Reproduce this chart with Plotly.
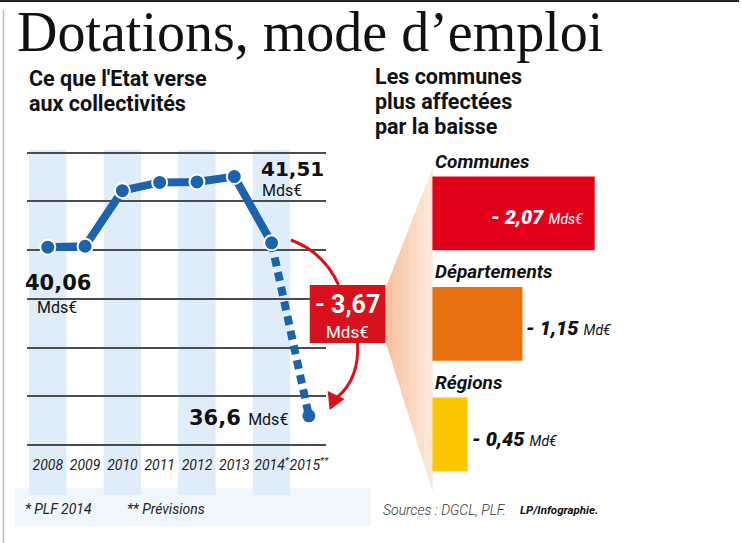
import plotly.graph_objects as go

# ---------------- data ----------------
years = ["2008", "2009", "2010", "2011", "2012", "2013", "2014", "2015"]
year_ticks = ["2008", "2009", "2010", "2011", "2012", "2013", "2014<sup>*</sup>", "2015<sup>**</sup>"]
dotations = [40.06, 40.08, 41.22, 41.39, 41.40, 41.51, 40.15, 36.6]   # Mds€
n_actual = 7   # 2008..2014 solid, 2014->2015 forecast dotted

cats = ["Communes", "Départements", "Régions"]
baisse = [2.07, 1.15, 0.45]          # Mds€ (shown as negative)
baisse_txt = ["- 2,07", "- 1,15", "- 0,45"]
unit_txt = ["Mds€", "Md€", "Md€"]
bar_colors = ["#e2001a", "#e8700f", "#fcc600"]
total_txt = "- 3,67"

# ---------------- geometry helpers ----------------
W, H = 742, 543
def px(x): return x / W
def py(y): return 1 - y / H

BLUE = "#1c63ae"
RED = "#d8121c"
ROBOTO = "Roboto, 'Open Sans', sans-serif"
HEAVY = "'DejaVu Sans', Roboto, sans-serif"

fig = go.Figure()

xi = list(range(len(years)))

# forecast dotted segment
fig.add_trace(go.Scatter(
    x=xi[n_actual - 1:], y=dotations[n_actual - 1:], mode="lines",
    line=dict(color=BLUE, width=8, dash="9px,6px"),
    hoverinfo="skip", xaxis="x", yaxis="y"))
fig.add_trace(go.Scatter(
    x=xi[n_actual:], y=dotations[n_actual:], mode="markers",
    marker=dict(size=13, color=BLUE, line=dict(width=0)),
    hoverinfo="skip", xaxis="x", yaxis="y"))
# actual solid line
fig.add_trace(go.Scatter(
    x=xi[:n_actual], y=dotations[:n_actual], mode="lines+markers",
    line=dict(color=BLUE, width=8),
    marker=dict(size=15, color=BLUE, line=dict(color="white", width=2)),
    hoverinfo="skip", xaxis="x", yaxis="y"))

# bars
fig.add_trace(go.Bar(
    x=baisse, y=cats, orientation="h", marker=dict(color=bar_colors, line=dict(width=0)),
    width=0.667, xaxis="x2", yaxis="y2", hoverinfo="skip"))

shapes = []
ann = []

# top rule and left rule
shapes.append(dict(type="line", xref="paper", yref="paper", x0=0, x1=1, y0=py(1), y1=py(1),
                   line=dict(color="#222", width=2)))
shapes.append(dict(type="line", xref="paper", yref="paper", x0=px(3.5), x1=px(3.5), y0=py(10), y1=py(543),
                   line=dict(color="#bbbbbb", width=1.5)))

# light blue background bands
shapes.append(dict(type="rect", xref="paper", yref="paper", x0=px(15), x1=px(372), y0=py(526), y1=py(488),
                   fillcolor="#f0f7fc", line=dict(width=0), layer="below"))
for i in range(0, len(years), 2):
    shapes.append(dict(type="rect", xref="x", yref="paper", x0=i - 0.5, x1=i + 0.5,
                       y0=py(495), y1=py(150), fillcolor="#deedf9", line=dict(width=0), layer="below"))

# peach funnel (stepped gradient)
x_a, x_b = 387, 434
top_a, top_b = 288, 168
bot_a, bot_b = 342, 492
steps = 6
cols = ["#f8c2a2", "#f9c9ac", "#fad0b6", "#fbd8c2", "#fce0ce", "#fde8da"]
for k in range(steps):
    t0, t1 = k / steps, (k + 1) / steps
    xa, xb = x_a + (x_b - x_a) * t0, x_a + (x_b - x_a) * t1
    ya0, yb0 = top_a + (top_b - top_a) * t0, top_a + (top_b - top_a) * t1
    ya1, yb1 = bot_a + (bot_b - bot_a) * t0, bot_a + (bot_b - bot_a) * t1
    path = (f"M {px(xa)},{py(ya0)} L {px(xb + 0.5)},{py(yb0)} "
            f"L {px(xb + 0.5)},{py(yb1)} L {px(xa)},{py(ya1)} Z")
    shapes.append(dict(type="path", xref="paper", yref="paper", path=path,
                       fillcolor=cols[k], line=dict(width=0), layer="below"))

# red box
shapes.append(dict(type="rect", xref="paper", yref="paper", x0=px(311), x1=px(387), y0=py(343), y1=py(285),
                   fillcolor=RED, line=dict(width=0)))
# curved red arrow
shapes.append(dict(type="path", xref="paper", yref="paper",
                   path=f"M {px(292)},{py(240)} Q {px(325)},{py(252)} {px(340)},{py(285)}",
                   line=dict(color=RED, width=3)))
shapes.append(dict(type="path", xref="paper", yref="paper",
                   path=f"M {px(359)},{py(343)} Q {px(361)},{py(378)} {px(339)},{py(397)}",
                   line=dict(color=RED, width=3)))
shapes.append(dict(type="path", xref="paper", yref="paper",
                   path=(f"M {px(331)},{py(410)} L {px(329)},{py(391)} L {px(346)},{py(399)} Z"),
                   fillcolor=RED, line=dict(width=0)))

def txt(text, x, y, size, family=ROBOTO, color="#111", xanchor="left", weight="normal", style="normal"):
    ann.append(dict(text=text, x=px(x), y=py(y), xref="paper", yref="paper", xanchor=xanchor,
                    yanchor="middle", showarrow=False,
                    font=dict(size=size, family=family, color=color, weight=weight, style=style)))

# titles
txt("Dotations, mode d’emploi", 15, 32, 56, family="'Liberation Serif', 'DejaVu Serif', serif", color="#111")
txt("Ce que l'Etat verse", 27, 79, 21.5, weight="bold")
txt("aux collectivités", 27, 104, 21.5, weight="bold")
txt("Les communes", 375, 77, 21.5, weight="bold")
txt("plus affectées", 375, 102, 21.5, weight="bold")
txt("par la baisse", 375, 127, 21.5, weight="bold")

# line-chart value labels (anchored to data points)
def dann(text, i, dx, dy, size, family, xanchor="center", weight="normal", color="#111"):
    ann.append(dict(text=text, x=i, y=dotations[i], xref="x", yref="y", xanchor=xanchor, yanchor="middle",
                    xshift=dx, yshift=dy, showarrow=False,
                    font=dict(size=size, family=family, color=color, weight=weight)))

dann("40,06", 0, 10, -36, 21, HEAVY, weight="bold")
dann("Mds€", 0, 9, -60, 16, ROBOTO)
dann("41,51", 5, 25, 8, 20, HEAVY, xanchor="left", weight="bold")
dann("Mds€", 5, 26, -14, 16, ROBOTO, xanchor="left")
dann("36,6 <span style='font-family:Roboto;font-weight:normal;font-size:16px'>Mds€</span>",
     7, -19, -2, 21, HEAVY, xanchor="right", weight="bold")

# red box text
txt(total_txt, 349, 304, 25, color="white", xanchor="center", weight="bold")
txt("Mds€", 349, 332, 17, color="white", xanchor="center")

# bar category labels and values
for i, c in enumerate(cats):
    ann.append(dict(text=c, x=0, y=c, xref="x2", yref="y2", xanchor="left", yanchor="middle",
                    xshift=1, yshift=52, showarrow=False,
                    font=dict(size=19, family=ROBOTO, color="#111", weight="bold", style="italic")))
    label = (f"<span style='font-weight:900'>{baisse_txt[i]}</span> "
             f"<span style='font-size:14px;font-weight:normal'>{unit_txt[i]}</span>")
    inside = i == 0
    ann.append(dict(text=label, x=baisse[i], y=c, xref="x2", yref="y2",
                    xanchor="right" if inside else "left", yanchor="middle",
                    xshift=-10 if inside else 2, yshift=-4, showarrow=False,
                    font=dict(size=20, family=ROBOTO, color="white" if inside else "#111",
                              weight=900, style="italic")))

# footnotes / sources
txt("* PLF 2014", 23, 509, 14, style="italic", color="#222")
txt("** Prévisions", 126, 509, 14, style="italic", color="#222")
txt("Sources : DGCL, PLF.", 383, 510, 14, style="italic", color="#333", weight=300)
txt("LP/Infographie.", 520, 510, 11.5, style="italic", color="#111", weight="bold")

fig.update_layout(
    width=W, height=H, margin=dict(l=0, r=0, t=0, b=0),
    paper_bgcolor="white", plot_bgcolor="rgba(0,0,0,0)", showlegend=False,
    shapes=shapes, annotations=ann,
    xaxis=dict(domain=[px(27), px(327)], range=[-0.56, 7.45], tickmode="array", tickvals=xi,
               ticktext=year_ticks, tickangle=0, showgrid=False, zeroline=False, showline=False, ticks="",
               ticklabelstandoff=5,
               tickfont=dict(family=ROBOTO, size=14, color="#222", style="italic"), fixedrange=True),
    yaxis=dict(domain=[py(450), py(148)], range=[35.898, 42.096], dtick=1, tick0=36,
               showgrid=True, gridcolor="#4d4d4d", gridwidth=1.5, zeroline=False, showticklabels=False,
               ticks="", showline=False, fixedrange=True),
    xaxis2=dict(domain=[px(434), px(640)], range=[0, 206 / 78.8], visible=False, anchor="y2", fixedrange=True),
    yaxis2=dict(domain=[py(500), py(158)], autorange="reversed", visible=False, anchor="x2", fixedrange=True),
)

fig.write_html("out.html", config={"displayModeBar": False},
               post_script="document.body.style.margin='0';")
